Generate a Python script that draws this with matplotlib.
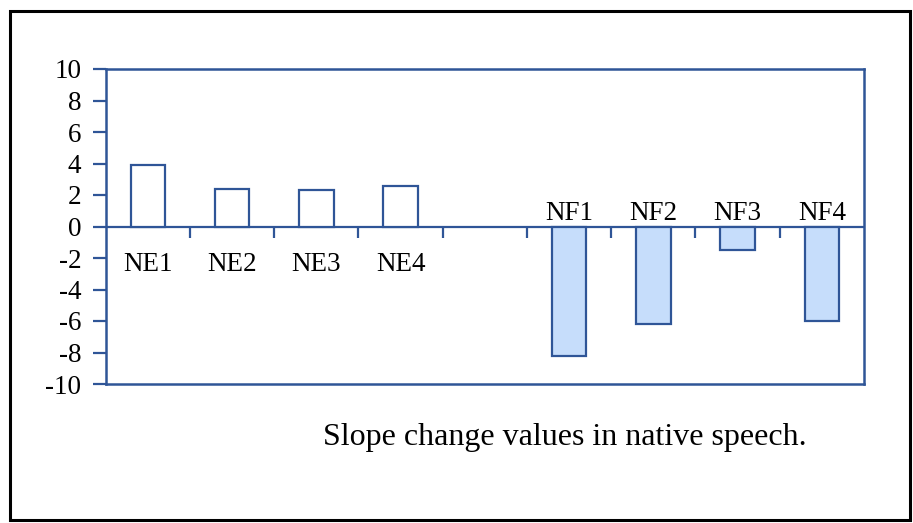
import matplotlib
matplotlib.use("Agg")
import matplotlib.pyplot as plt
from matplotlib.patches import Rectangle
import numpy as np

plt.rcParams['font.family'] = ['Liberation Serif', 'DejaVu Serif']

categories = ["NE1", "NE2", "NE3", "NE4", "", "NF1", "NF2", "NF3", "NF4"]
values = [3.9, 2.4, 2.3, 2.6, None, -8.2, -6.2, -1.5, -6.0]
y_ticks = [-10, -8, -6, -4, -2, 0, 2, 4, 6, 8, 10]
caption = "Slope change values in native speech."

blue = "#2F5597"
fill_neg = "#C6DDFB"

W, H, DPI = 913, 523, 100
fig = plt.figure(figsize=(W / DPI, H / DPI), dpi=DPI)

# outer border
fig.patches.append(Rectangle((10 / W, 3 / H), 900 / W, 509 / H, transform=fig.transFigure,
                             fill=False, edgecolor="black", linewidth=2.2))

ax = fig.add_axes([105.7 / W, 1 - 384 / H, (864 - 105.7) / W, (384 - 69) / H])
n = len(categories)
x = np.arange(n)

for xi, v in zip(x, values):
    if v is None:
        continue
    ax.bar(xi, v, width=0.41, facecolor=("white" if v >= 0 else fill_neg),
           edgecolor=blue, linewidth=1.6, zorder=3)

ax.set_xlim(-0.5, n - 0.5)
ax.set_ylim(y_ticks[0], y_ticks[-1])
ax.set_yticks(y_ticks)
ax.set_yticklabels([str(t) for t in y_ticks], fontsize=19.5)
ax.tick_params(axis='y', direction='out', length=9.5, width=1.6, color=blue, pad=8)
ax.set_xticks([])

for s in ax.spines.values():
    s.set_color(blue)
    s.set_linewidth(1.8)

# zero axis line and category separators
ax.axhline(0, color=blue, linewidth=1.6, zorder=2)
ax.vlines(x[:-1] + 0.5, -0.75, 0, color=blue, linewidth=1.6, zorder=2)

for xi, (lab, v) in enumerate(zip(categories, values)):
    if not lab:
        continue
    if v is not None and v >= 0:
        ax.text(xi, -2.4, lab, ha='center', va='center', fontsize=19.5)
    else:
        ax.text(xi, 0.85, lab, ha='center', va='center', fontsize=19.5)

fig.text(564.5 / W, 1 - 437 / H, caption, ha='center', va='center', fontsize=23)

fig.savefig("out.png", dpi=DPI)
